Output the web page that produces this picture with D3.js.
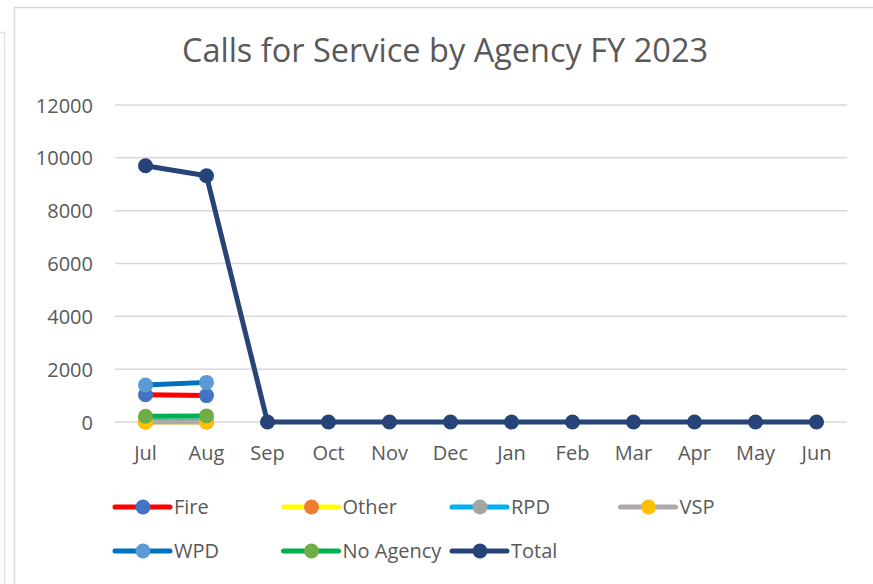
<!DOCTYPE html>
<meta charset="utf-8">
<script src="https://d3js.org/d3.v7.min.js"></script>
<style>
  body { margin: 0; background: #fff; }
  text { font-family: "Open Sans", sans-serif; fill: #595959; }
</style>
<body>
<div id="my_dataviz"></div>
<script>
const months = ["Jul","Aug","Sep","Oct","Nov","Dec","Jan","Feb","Mar","Apr","May","Jun"];
const yTicks = [0, 2000, 4000, 6000, 8000, 10000, 12000];

const fire     = [1030, 1000];
const other    = [0, 0];
const rpd      = [30, 30];
const vsp      = [0, 0];
const wpd      = [1400, 1500];
const noAgency = [220, 230];
const total    = [9700, 9320, 0, 0, 0, 0, 0, 0, 0, 0, 0, 0];

const series = [
  {name: "Fire",      values: fire,     line: "#FF0000", dot: "#4472C4"},
  {name: "Other",     values: other,    line: "#FFFF00", dot: "#ED7D31"},
  {name: "RPD",       values: rpd,      line: "#00B0F0", dot: "#A5A5A5"},
  {name: "VSP",       values: vsp,      line: "#AEAAAA", dot: "#FFC000"},
  {name: "WPD",       values: wpd,      line: "#0070C0", dot: "#5B9BD5"},
  {name: "No Agency", values: noAgency, line: "#00B050", dot: "#70AD47"},
  {name: "Total",     values: total,    line: "#264478", dot: "#264478"}
];

const W = 873, H = 584;
const svg = d3.select("#my_dataviz").append("svg")
  .attr("width", W).attr("height", H);

// outer frames
svg.append("path").attr("d", "M0,32.5H4.5V584").attr("fill", "none").attr("stroke", "#dde4ec").attr("stroke-width", 1.5);
svg.append("rect").attr("x", 14.5).attr("y", 7.5).attr("width", 900).attr("height", 600)
  .attr("fill", "#fff").attr("stroke", "#d9d9d9").attr("stroke-width", 1.5);

svg.append("text").attr("x", 445).attr("y", 62).attr("text-anchor", "middle")
  .style("font-size", "32.5px").text("Calls for Service by Agency FY 2023");

const x = d3.scaleBand().domain(months).range([115, 847]);
const y = d3.scaleLinear().domain([0, 12000]).range([422, 105]);

// gridlines
svg.append("g").selectAll("line").data(yTicks).join("line")
  .attr("x1", 115).attr("x2", 847)
  .attr("y1", d => y(d)).attr("y2", d => y(d))
  .attr("stroke", "#d9d9d9").attr("stroke-width", 1.5);

const yAxis = svg.append("g").attr("transform", "translate(93,0)")
  .call(d3.axisLeft(y).tickValues(yTicks).tickSize(0).tickPadding(0).tickFormat(d3.format("d")));
yAxis.select(".domain").remove();
yAxis.selectAll("text").style("font-size", "20px").attr("fill", "#595959").attr("dy", "0.35em");

const xAxis = svg.append("g").attr("transform", "translate(0,453)")
  .call(d3.axisBottom(x).tickSize(0).tickPadding(0));
xAxis.select(".domain").remove();
xAxis.selectAll("text").style("font-size", "20px").attr("fill", "#595959").attr("dy", "0.35em");

const line = d3.line()
  .x((d, i) => x(months[i]) + x.bandwidth() / 2)
  .y(d => y(d));

series.forEach(s => {
  const g = svg.append("g");
  g.append("path").attr("d", line(s.values))
    .attr("fill", "none").attr("stroke", s.line).attr("stroke-width", 5)
    .attr("stroke-linejoin", "round").attr("stroke-linecap", "round");
  g.selectAll("circle").data(s.values).join("circle")
    .attr("cx", (d, i) => x(months[i]) + x.bandwidth() / 2)
    .attr("cy", d => y(d)).attr("r", 7.5).attr("fill", s.dot);
});

// legend
const legend = svg.append("g");
series.forEach((s, i) => {
  const col = i % 4, row = Math.floor(i / 4);
  const g = legend.append("g").attr("transform", `translate(${115 + col * 168.5},${507 + row * 44})`);
  g.append("line").attr("x1", 0).attr("x2", 55).attr("stroke", s.line)
    .attr("stroke-width", 5).attr("stroke-linecap", "round");
  g.append("circle").attr("cx", 28).attr("r", 7.5).attr("fill", s.dot);
  g.append("text").attr("x", 59).attr("dy", "0.35em").style("font-size", "20px").text(s.name);
});
</script>
</body>
